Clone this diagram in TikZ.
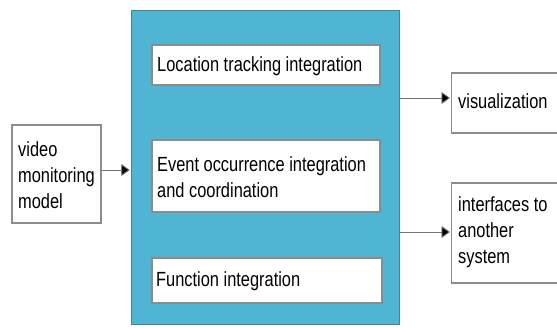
\documentclass[tikz,border=0pt]{standalone}
\usepackage{fontspec}
\setmainfont[FakeStretch=0.8]{Liberation Sans}
\usetikzlibrary{arrows.meta}
\definecolor{bigblue}{RGB}{80,180,211}
\definecolor{bigedge}{RGB}{70,130,160}
\definecolor{boxedge}{RGB}{140,140,140}
\begin{document}
\begin{tikzpicture}[x=1pt,y=-1pt,
  wbox/.style={draw=boxedge,line width=1.2pt,fill=white,inner sep=0pt},
  txt/.style={anchor=west,inner sep=0pt,font=\fontsize{20.5}{26}\selectfont,align=left},
  conn/.style={draw=black!55,line width=0.9pt,shorten >=1pt,-{Triangle[length=8.5pt,width=12pt,fill=black]}}]
\useasboundingbox (0,0) rectangle (557,328);
% big blue box
\node[draw=bigedge,line width=1.5pt,fill=bigblue,minimum width=268pt,minimum height=314pt,inner sep=0pt] (big) at (265.5,167.5) {};
% inner boxes
\node[wbox,minimum width=228pt,minimum height=40pt] (loc) at (266,65) {};
\node[wbox,minimum width=228pt,minimum height=72pt] (evt) at (266,176) {};
\node[wbox,minimum width=230pt,minimum height=45pt] (fun) at (267,280.5) {};
\node[txt] (loct) at (157,66) {Location tracking integration};
\node[txt] (evtt) at (157,177) {Event occurrence integration\\and coordination};
\node[txt] (funt) at (156,281) {Function integration};
% video box
\node[wbox,minimum width=89pt,minimum height=98pt] (vid) at (56.5,174) {};
\node[txt] (vidt) at (18,175) {video\\monitoring\\model};
% right boxes
\node[wbox,minimum width=120pt,minimum height=60pt,anchor=west] (vis) at (451,103) {};
\node[txt] (vist) at (458,101) {visualization};
\node[wbox,minimum width=120pt,minimum height=100pt,anchor=west] (itf) at (451,233) {};
\node[txt] (itft) at (458,232) {interfaces to\\another\\system};
% connectors
\draw[conn] (vid.east |- 0,170) -- (big.west |- 0,170);
\draw[conn] (big.east |- 0,98) -- (vis.west |- 0,98);
\draw[conn] (big.east |- 0,232) -- (itf.west |- 0,232);
\end{tikzpicture}
\end{document}
